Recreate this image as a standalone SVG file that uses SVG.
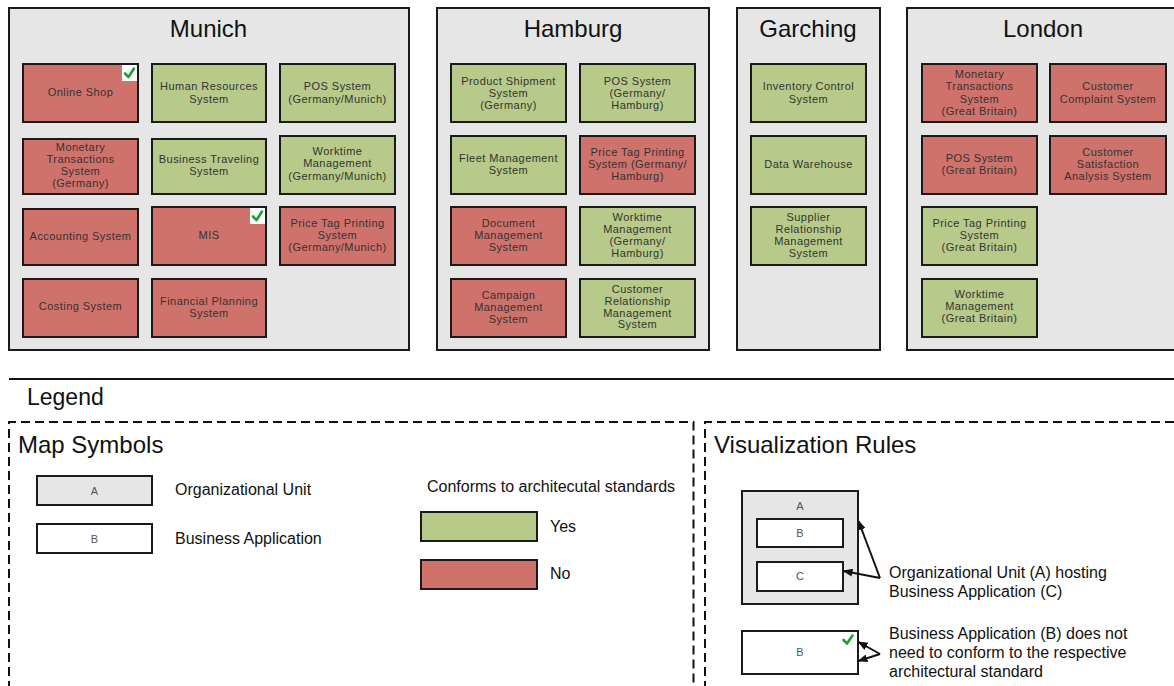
<svg xmlns="http://www.w3.org/2000/svg" xmlns:xlink="http://www.w3.org/1999/xlink" width="1174" height="686" viewBox="0 0 1174 686">
<style>
text{font-family:"Liberation Sans",Arial,sans-serif}
.org{fill:#e6e6e6;stroke:#1a1a1a;stroke-width:2}
.g{fill:#b7ca8a;stroke:#1a1a1a;stroke-width:2}
.r{fill:#cf726b;stroke:#1a1a1a;stroke-width:2}
.w{fill:#fff;stroke:#1a1a1a;stroke-width:2}
.t{font-size:11px;letter-spacing:0.45px;fill:#333;text-anchor:middle}
.title{font-size:24px;fill:#111;text-anchor:middle}
.h{font-size:24px;fill:#111}
.lt{font-size:16px;fill:#111}
.s{font-size:11px;fill:#555;text-anchor:middle}
.dash{fill:none;stroke:#111;stroke-width:2;stroke-dasharray:9 5}
.chk{fill:none;stroke:#1e9e34;stroke-width:2.6;stroke-linecap:round;stroke-linejoin:round}
.con{fill:none;stroke:#111;stroke-width:2}
</style>
<defs>
<g id="chk"><rect x="-16" y="0" width="15" height="16" fill="#fff"/><path class="chk" d="M-13,8.5 L-9.5,12 L-4,3.5"/></g>
<marker id="ah" markerUnits="userSpaceOnUse" markerWidth="10" markerHeight="8" refX="9" refY="4" orient="auto"><path d="M0,0 L10,4 L0,8 z" fill="#111"/></marker>
</defs>

<!-- Munich -->
<g id="munich">
<rect class="org" x="9" y="8" width="400" height="342"/>
<text class="title" x="208.5" y="37">Munich</text>
</g>
<g id="online-shop"><rect class="r" x="23" y="64" width="115" height="58"/><text class="t" x="80.5" y="96">Online Shop</text><use xlink:href="#chk" x="138" y="65"/></g>
<g id="hr-system"><rect class="g" x="152" y="64" width="114" height="58"/><text class="t"><tspan x="209" y="90">Human Resources</tspan><tspan x="209" y="102.5">System</tspan></text></g>
<g id="pos-munich"><rect class="g" x="280" y="64" width="115" height="58"/><text class="t"><tspan x="337.5" y="90">POS System</tspan><tspan x="337.5" y="102.5">(Germany/Munich)</tspan></text></g>
<g id="mts-germany"><rect class="r" x="23" y="139" width="115" height="55"/><text class="t"><tspan x="80.5" y="151">Monetary</tspan><tspan x="80.5" y="163.3">Transactions</tspan><tspan x="80.5" y="175">System</tspan><tspan x="80.5" y="187.3">(Germany)</tspan></text></g>
<g id="business-traveling"><rect class="g" x="152" y="139" width="114" height="55"/><text class="t"><tspan x="209" y="163.3">Business Traveling</tspan><tspan x="209" y="175">System</tspan></text></g>
<g id="worktime-munich"><rect class="g" x="280" y="136" width="115" height="58"/><text class="t"><tspan x="337.5" y="155">Worktime</tspan><tspan x="337.5" y="167.3">Management</tspan><tspan x="337.5" y="179.7">(Germany/Munich)</tspan></text></g>
<g id="accounting"><rect class="r" x="23" y="209" width="115" height="56"/><text class="t" x="80.5" y="240.3">Accounting System</text></g>
<g id="mis"><rect class="r" x="152" y="207" width="114" height="58"/><text class="t" x="209" y="239">MIS</text><use xlink:href="#chk" x="266" y="208"/></g>
<g id="pricetag-munich"><rect class="r" x="280" y="207" width="115" height="58"/><text class="t"><tspan x="337.5" y="226.7">Price Tag Printing</tspan><tspan x="337.5" y="238.7">System</tspan><tspan x="337.5" y="251">(Germany/Munich)</tspan></text></g>
<g id="costing"><rect class="r" x="23" y="279" width="115" height="58"/><text class="t" x="80.5" y="310">Costing System</text></g>
<g id="financial-planning"><rect class="r" x="152" y="279" width="114" height="58"/><text class="t"><tspan x="209" y="304.7">Financial Planning</tspan><tspan x="209" y="316.7">System</tspan></text></g>

<!-- Hamburg -->
<g id="hamburg">
<rect class="org" x="437" y="8" width="272" height="342"/>
<text class="title" x="573" y="37">Hamburg</text>
</g>
<g id="product-shipment"><rect class="g" x="451" y="64" width="115" height="58"/><text class="t"><tspan x="508.5" y="85">Product Shipment</tspan><tspan x="508.5" y="97">System</tspan><tspan x="508.5" y="109">(Germany)</tspan></text></g>
<g id="pos-hamburg"><rect class="g" x="580" y="64" width="115" height="58"/><text class="t"><tspan x="637.5" y="85">POS System</tspan><tspan x="637.5" y="97">(Germany/</tspan><tspan x="637.5" y="109">Hamburg)</tspan></text></g>
<g id="fleet"><rect class="g" x="451" y="136" width="115" height="58"/><text class="t"><tspan x="508.5" y="162">Fleet Management</tspan><tspan x="508.5" y="173.7">System</tspan></text></g>
<g id="pricetag-hamburg"><rect class="r" x="580" y="136" width="115" height="58"/><text class="t"><tspan x="637.5" y="155.7">Price Tag Printing</tspan><tspan x="637.5" y="168">System (Germany/</tspan><tspan x="637.5" y="180">Hamburg)</tspan></text></g>
<g id="document-mgmt"><rect class="r" x="451" y="207" width="115" height="58"/><text class="t"><tspan x="508.5" y="227.3">Document</tspan><tspan x="508.5" y="239">Management</tspan><tspan x="508.5" y="251">System</tspan></text></g>
<g id="worktime-hamburg"><rect class="g" x="580" y="207" width="115" height="58"/><text class="t"><tspan x="637.5" y="220.7">Worktime</tspan><tspan x="637.5" y="233.3">Management</tspan><tspan x="637.5" y="245.3">(Germany/</tspan><tspan x="637.5" y="257.3">Hamburg)</tspan></text></g>
<g id="campaign"><rect class="r" x="451" y="279" width="115" height="58"/><text class="t"><tspan x="508.5" y="298.7">Campaign</tspan><tspan x="508.5" y="310.7">Management</tspan><tspan x="508.5" y="323">System</tspan></text></g>
<g id="crm"><rect class="g" x="580" y="279" width="115" height="58"/><text class="t"><tspan x="637.5" y="292.7">Customer</tspan><tspan x="637.5" y="305">Relationship</tspan><tspan x="637.5" y="316.7">Management</tspan><tspan x="637.5" y="328.3">System</tspan></text></g>

<!-- Garching -->
<g id="garching">
<rect class="org" x="737" y="8" width="143" height="342"/>
<text class="title" x="808" y="37">Garching</text>
</g>
<g id="inventory"><rect class="g" x="751" y="64" width="115" height="58"/><text class="t"><tspan x="808.5" y="90">Inventory Control</tspan><tspan x="808.5" y="102.7">System</tspan></text></g>
<g id="data-warehouse"><rect class="g" x="751" y="136" width="115" height="58"/><text class="t" x="808.5" y="167.7">Data Warehouse</text></g>
<g id="srm"><rect class="g" x="751" y="207" width="115" height="58"/><text class="t"><tspan x="808.5" y="220.7">Supplier</tspan><tspan x="808.5" y="233">Relationship</tspan><tspan x="808.5" y="245">Management</tspan><tspan x="808.5" y="257">System</tspan></text></g>

<!-- London -->
<g id="london">
<rect class="org" x="907" y="8" width="290" height="342"/>
<text class="title" x="1043" y="37">London</text>
</g>
<g id="mts-gb"><rect class="r" x="922" y="64" width="115" height="58"/><text class="t"><tspan x="979.5" y="78">Monetary</tspan><tspan x="979.5" y="90">Transactions</tspan><tspan x="979.5" y="102.7">System</tspan><tspan x="979.5" y="114.5">(Great Britain)</tspan></text></g>
<g id="customer-complaint"><rect class="r" x="1050" y="64" width="116" height="58"/><text class="t"><tspan x="1108" y="90">Customer</tspan><tspan x="1108" y="102.7">Complaint System</tspan></text></g>
<g id="pos-gb"><rect class="r" x="922" y="136" width="115" height="58"/><text class="t"><tspan x="979.5" y="161.7">POS System</tspan><tspan x="979.5" y="173.7">(Great Britain)</tspan></text></g>
<g id="customer-satisfaction"><rect class="r" x="1050" y="136" width="116" height="58"/><text class="t"><tspan x="1108" y="155.5">Customer</tspan><tspan x="1108" y="167.5">Satisfaction</tspan><tspan x="1108" y="179.7">Analysis System</tspan></text></g>
<g id="pricetag-gb"><rect class="g" x="922" y="207" width="115" height="58"/><text class="t"><tspan x="979.5" y="226.7">Price Tag Printing</tspan><tspan x="979.5" y="238.7">System</tspan><tspan x="979.5" y="251">(Great Britain)</tspan></text></g>
<g id="worktime-gb"><rect class="g" x="922" y="279" width="115" height="58"/><text class="t"><tspan x="979.5" y="298">Worktime</tspan><tspan x="979.5" y="310.3">Management</tspan><tspan x="979.5" y="322.3">(Great Britain)</tspan></text></g>

<!-- Legend -->
<g id="legend">
<line x1="9" y1="379" x2="1174" y2="379" stroke="#111" stroke-width="2"/>
<text class="h" x="27" y="405" style="font-size:23px">Legend</text>
</g>
<g id="map-symbols">
<path class="dash" d="M9,690 V422 H693.5 V690"/>
<text class="h" x="18" y="453">Map Symbols</text>
<rect class="org" x="37" y="476" width="115" height="29"/><text class="s" x="94.5" y="494.5">A</text>
<text class="lt" x="175" y="495">Organizational Unit</text>
<rect class="w" x="37" y="524" width="115" height="29"/><text class="s" x="94.5" y="542.5">B</text>
<text class="lt" x="175" y="544">Business Application</text>
<text class="lt" x="427" y="492">Conforms to architecutal standards</text>
<rect class="g" x="421" y="512" width="116" height="29"/>
<text class="lt" x="550" y="532">Yes</text>
<rect class="r" x="421" y="560" width="116" height="29"/>
<text class="lt" x="550" y="579">No</text>
</g>
<g id="visualization-rules">
<path class="dash" d="M705,690 V422 H1180"/>
<text class="h" x="714" y="453">Visualization Rules</text>
<g id="vr-unit-a"><rect class="org" x="742" y="491" width="116" height="113"/><text class="s" x="800" y="510">A</text></g>
<g id="vr-app-b"><rect class="w" x="757" y="519" width="86" height="28"/><text class="s" x="800" y="537">B</text></g>
<g id="vr-app-c"><rect class="w" x="757" y="562" width="86" height="29"/><text class="s" x="800" y="580">C</text></g>
<g id="vr-app-b2"><rect class="w" x="742" y="631" width="116" height="43"/><text class="s" x="800" y="656">B</text><path class="chk" d="M843.5,640 L847,643.5 L852.5,635.5"/></g>
<text class="lt"><tspan x="889" y="578">Organizational Unit (A) hosting</tspan><tspan x="889" y="597">Business Application (C)</tspan></text>
<text class="lt"><tspan x="889" y="639">Business Application (B) does not</tspan><tspan x="889" y="658">need to conform to the respective</tspan><tspan x="889" y="677">architectural standard</tspan></text>
</g>
<g id="connectors">
<line class="con" x1="880" y1="578" x2="858.5" y2="521" marker-end="url(#ah)"/>
<line class="con" x1="880" y1="578" x2="843.5" y2="571" marker-end="url(#ah)"/>
<line class="con" x1="880" y1="654" x2="858.5" y2="642" marker-end="url(#ah)"/>
<line class="con" x1="880" y1="654" x2="858.5" y2="661" marker-end="url(#ah)"/>
</g>
</svg>
